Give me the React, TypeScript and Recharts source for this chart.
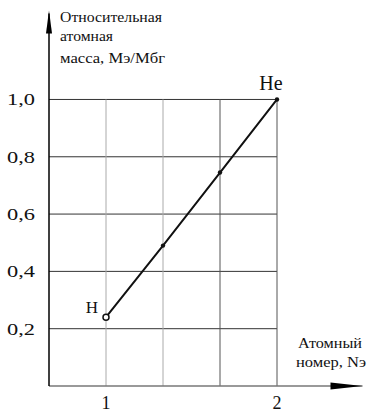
import React from 'react';
import { LineChart, Line, XAxis, YAxis, ReferenceLine, ReferenceDot, LabelList } from 'recharts';

const atomicNumbers = [1, 4 / 3, 5 / 3, 2];
const relativeMass = [0.24, 0.49, 0.745, 1.0];
const pointLabels = ['H', '', '', 'He'];
const yTicks = [0.2, 0.4, 0.6, 0.8, 1.0];
const xTicks = [1, 2];
const hGrid = [0.2, 0.4, 0.6, 0.8, 1.0];
const vGrid = [1, 4 / 3, 5 / 3, 2];
const yTitleLines = ['Относительная', 'атомная', 'масса, Мэ/Мбг'];
const xTitleLines = ['Атомный', 'номер, Nэ'];

const X_MIN = 2 / 3;
const X_MAX = 2.5;
const Y_MIN = 0;
const Y_MAX = 1.3;

const data = atomicNumbers.map((n, i) => ({ n, m: relativeMass[i], label: pointLabels[i] }));

const FONT = 'Liberation Serif';
const tStyle = { fontFamily: FONT };

const YTick = (props: any) => {
  const { x, y, payload } = props;
  const txt = payload.value.toFixed(1).replace('.', ',');
  return (
    <text x={x} y={y + 6} textAnchor="end" style={tStyle} fontSize={17} fill="#111"
      textLength={28} lengthAdjust="spacingAndGlyphs">
      {txt}
    </text>
  );
};

const XTick = (props: any) => {
  const { x, y, payload } = props;
  return (
    <text x={x} y={y + 23} textAnchor="middle" style={tStyle} fontSize={18} fill="#111">
      {String(payload.value)}
    </text>
  );
};

const Dot = (props: any) => {
  const { cx, cy, index } = props;
  if (index === 0) {
    return <circle key={index} cx={cx} cy={cy} r={3} fill="#fff" stroke="#111" strokeWidth={1.5} />;
  }
  return <circle key={index} cx={cx} cy={cy} r={2.2} fill="#111" />;
};

const PointLabel = (props: any) => {
  const { x, y, value, index } = props;
  if (!value) return null;
  if (index === 0) {
    return (
      <text x={x - 8} y={y - 4} textAnchor="end" style={tStyle} fontSize={17} fill="#111">{value}</text>
    );
  }
  return (
    <text x={x - 6} y={y - 9} textAnchor="middle" style={tStyle} fontSize={20} fill="#111">{value}</text>
  );
};

const UpArrow = (props: any) => {
  const { cx, cy } = props;
  return <path d={`M${cx},${cy - 3} L${cx + 3},${cy + 20} L${cx - 3},${cy + 20} Z`} fill="#000" />;
};

const RightArrow = (props: any) => {
  const { cx, cy } = props;
  return <path d={`M${cx},${cy} L${cx - 32},${cy - 3.5} L${cx - 32},${cy + 3.5} Z`} fill="#000" />;
};

export default function App() {
  return (
    <div style={{ position: 'absolute', left: 0, top: 0, width: 370, height: 414, background: '#fff' }}>
      <LineChart width={370} height={414} data={data} margin={{ top: 13.5, right: 7.5, left: 0, bottom: 0 }}>
        <XAxis type="number" dataKey="n" domain={[X_MIN, X_MAX]} ticks={xTicks} allowDataOverflow
          height={28} tickSize={0} tickMargin={0} tick={<XTick />} axisLine={{ stroke: '#777', strokeWidth: 1.3 }} />
        <YAxis type="number" dataKey="m" domain={[Y_MIN, Y_MAX]} ticks={yTicks} allowDataOverflow
          width={49} tickSize={0} tickMargin={14} tick={<YTick />} axisLine={{ stroke: '#000', strokeWidth: 1.5 }} />
        {hGrid.map((v) => (
          <ReferenceLine key={'h' + v} segment={[{ x: X_MIN, y: v }, { x: 2, y: v }]} stroke="#333" strokeWidth={1} ifOverflow="visible" />
        ))}
        {vGrid.map((v, i) => (
          <ReferenceLine key={'v' + i} segment={[{ x: v, y: Y_MIN }, { x: v, y: 1.0 }]}
            stroke={i < 2 ? '#aaa' : '#555'} strokeWidth={1} ifOverflow="visible" />
        ))}
        <ReferenceDot x={X_MIN} y={Y_MAX} r={0} shape={<UpArrow />} ifOverflow="visible" />
        <ReferenceDot x={X_MAX} y={Y_MIN} r={0} shape={<RightArrow />} ifOverflow="visible" />
        <Line type="linear" dataKey="m" stroke="#111" strokeWidth={2} dot={<Dot />} activeDot={false}
          isAnimationActive={false}>
          <LabelList dataKey="label" content={<PointLabel />} />
        </Line>
      </LineChart>
      <svg width={370} height={414} style={{ position: 'absolute', left: 0, top: 0, pointerEvents: 'none' }}>
        <text x={60} y={22} style={tStyle} fontSize={14} fill="#111" textLength={102} lengthAdjust="spacingAndGlyphs">{yTitleLines[0]}</text>
        <text x={60} y={41} style={tStyle} fontSize={14} fill="#111" textLength={53} lengthAdjust="spacingAndGlyphs">{yTitleLines[1]}</text>
        <text x={60} y={63} style={tStyle} fontSize={14} fill="#111" textLength={105} lengthAdjust="spacingAndGlyphs">{yTitleLines[2]}</text>
        <text x={298} y={348} style={tStyle} fontSize={14} fill="#111" textLength={64} lengthAdjust="spacingAndGlyphs">{xTitleLines[0]}</text>
        <text x={296} y={367} style={tStyle} fontSize={14} fill="#111" textLength={70} lengthAdjust="spacingAndGlyphs">{xTitleLines[1]}</text>
      </svg>
    </div>
  );
}
